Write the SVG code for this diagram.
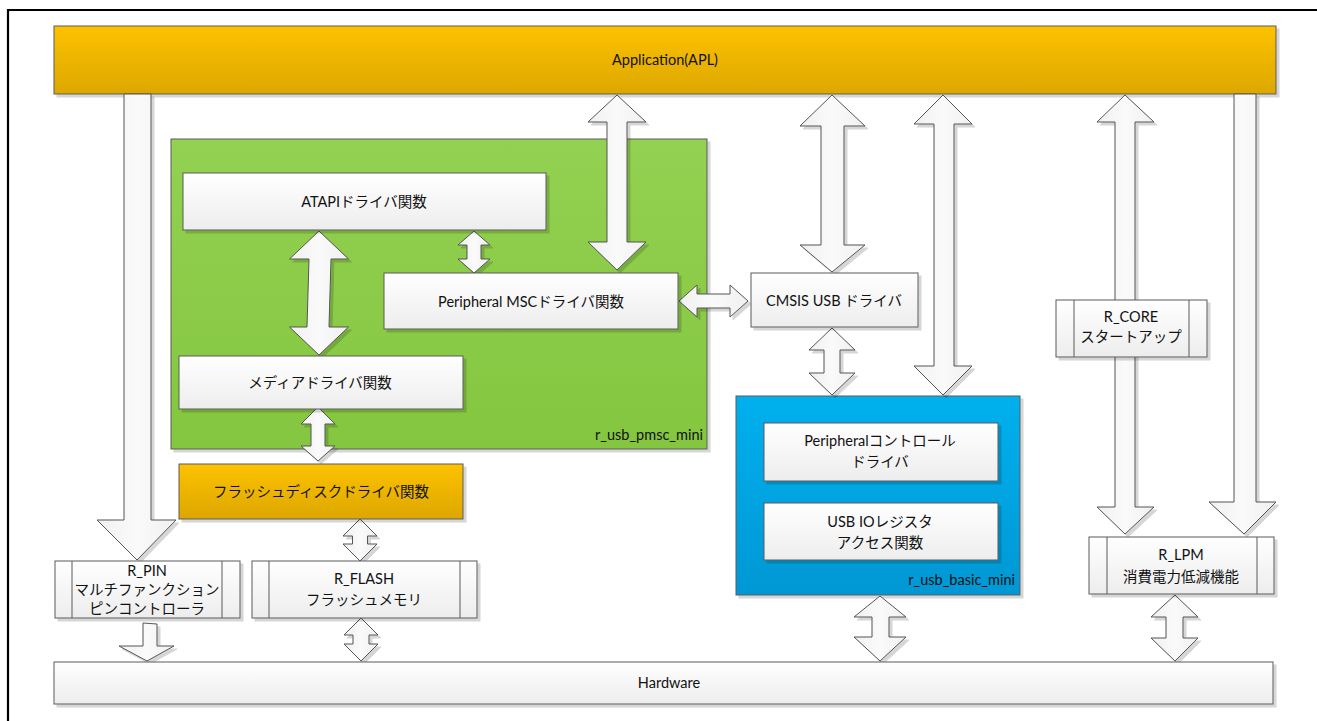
<svg xmlns="http://www.w3.org/2000/svg" width="1317" height="721" viewBox="0 0 1317 721">
<defs>
<linearGradient id="gOrange" x1="0" y1="0" x2="0" y2="1"><stop offset="0" stop-color="#FDC200"/><stop offset="1" stop-color="#DDA700"/></linearGradient>
<linearGradient id="gGreen" x1="0" y1="0" x2="0" y2="1"><stop offset="0" stop-color="#93D152"/><stop offset="1" stop-color="#84C63F"/></linearGradient>
<linearGradient id="gBlue" x1="0" y1="0" x2="0" y2="1"><stop offset="0" stop-color="#00B0EE"/><stop offset="1" stop-color="#0098D4"/></linearGradient>
<linearGradient id="gWhite" x1="0" y1="0" x2="0" y2="1"><stop offset="0" stop-color="#FFFFFF"/><stop offset="1" stop-color="#EDEDED"/></linearGradient>
<linearGradient id="gArrow" x1="0" y1="0" x2="1" y2="0"><stop offset="0" stop-color="#F0F0F0"/><stop offset="0.5" stop-color="#FAFAFA"/><stop offset="1" stop-color="#F0F0F0"/></linearGradient>
<filter id="sh" x="-10%" y="-10%" width="130%" height="130%"><feDropShadow dx="3" dy="3" stdDeviation="0.6" flood-color="#000" flood-opacity="0.16"/></filter>
</defs>
<style>
.box{fill:url(#gWhite);stroke:#5A5A5A;stroke-width:1;filter:url(#sh)}
.ln{stroke:#5A5A5A;stroke-width:1;fill:none}
.arr{fill:url(#gArrow);stroke:#555;stroke-width:1;stroke-linejoin:miter;filter:url(#sh)}
text{font-family:Lato,"Noto Sans CJK JP",sans-serif;font-size:14.5px;fill:#111;text-anchor:middle}
.lbl{text-anchor:end}
</style>
<rect width="1317" height="721" fill="#fff"/>
<g id="frame"><line x1="7" y1="10" x2="1317" y2="10" stroke="#000" stroke-width="2.2"/><line x1="8" y1="9" x2="8" y2="721" stroke="#000" stroke-width="2.2"/></g>

<g id="app"><rect x="54" y="26" width="1222" height="68" fill="url(#gOrange)" stroke="#5A5A5A" filter="url(#sh)"/><text x="665" y="65">Application(APL)</text></g>
<g id="pmsc"><rect x="171" y="139" width="536" height="310" fill="url(#gGreen)" stroke="#5A5A5A" filter="url(#sh)"/><text class="lbl" x="703" y="440">r_usb_pmsc_mini</text></g>
<g id="basic"><rect x="736" y="396" width="284" height="199" fill="url(#gBlue)" stroke="#5A5A5A" filter="url(#sh)"/><text class="lbl" x="1015" y="585">r_usb_basic_mini</text></g>

<g id="connectors">
<polygon class="arr" points="124,94 151,94 151,520 176,520 137,560 97,520 124,520"/>
<polygon class="arr" points="143,623 157,624 157,646 174,646 147,661 119,646 143,646"/>
<polygon class="arr" points="360,519 377,536 367.5,536 367.5,544 377,544 360,561 343,544 352.5,544 352.5,536 343,536"/>
<polygon class="arr" points="361,618 378,635 369,635 369,644 378,644 361,661 344,644 353,644 353,635 344,635"/>
<polygon class="arr" points="318,407 335,424 325,424 325,446 335,446 318,461 301,446 311,446 311,424 301,424"/>
<polygon class="arr" points="319,231 348.5,259 331,259 329,327 348.5,327 319,355 289.5,327 307,327 309,259 289.5,259"/>
<polygon class="arr" points="474,231 490,245 481,245 481,259 490,259 474,273 458,259 467,259 467,245 458,245"/>
<polygon class="arr" points="617,95 646,122 627,122 627,242 646,242 617,270 588,242 607,242 607,122 588,122"/>
<polygon class="arr" points="679,301 697,285 697,294 730,294 730,285 748,301 730,317 730,308 697,308 697,317"/>
<polygon class="arr" points="832,95 865,126 844,126 844,245 865,245 832,272 800,245 821,245 821,126 800,126"/>
<polygon class="arr" points="832,328 855,350 840,350 840,373 855,373 832,395 809,373 824,373 824,350 809,350"/>
<polygon class="arr" points="943,95 972,124 954,124 954,366 972,366 943,395 914,366 934,366 934,124 914,124"/>
<polygon class="arr" points="1125,95 1154,122 1135,122 1135,507 1154,507 1125,534 1097,507 1115,507 1115,122 1097,122"/>
<polygon class="arr" points="1234,94 1256,94 1256,502 1276,502 1244,534 1209,502 1234,502"/>
<polygon class="arr" points="880,596 906,617 889,617 889,637 906,637 880,661 854,637 872,637 872,617 854,617"/>
<polygon class="arr" points="1175,595 1198,617 1183,617 1183,638 1198,638 1175,661 1151,638 1166,638 1166,617 1151,617"/>
</g>

<g id="atapi"><rect class="box" x="183" y="173" width="363" height="57"/><text x="364" y="207">ATAPIドライバ関数</text></g>
<g id="msc"><rect class="box" x="384" y="273" width="294" height="56"/><text x="531" y="307">Peripheral MSCドライバ関数</text></g>
<g id="media"><rect class="box" x="179" y="356" width="284" height="53"/><text x="320" y="388">メディアドライバ関数</text></g>
<g id="flashdisk"><rect x="179" y="464" width="284" height="55" fill="url(#gOrange)" stroke="#5A5A5A" filter="url(#sh)"/><text x="321" y="497">フラッシュディスクドライバ関数</text></g>
<g id="cmsis"><rect class="box" x="751" y="273" width="167" height="54"/><text x="834" y="306">CMSIS USB ドライバ</text></g>
<g id="pctrl"><rect class="box" x="764" y="423" width="234" height="58"/><text x="880" y="446">Peripheralコントロール</text><text x="880" y="467">ドライバ</text></g>
<g id="usbio"><rect class="box" x="764" y="503" width="234" height="57"/><text x="880" y="527">USB IOレジスタ</text><text x="880" y="548">アクセス関数</text></g>
<g id="rcore"><rect class="box" x="1056" y="300" width="151" height="57"/><line class="ln" x1="1074" y1="300" x2="1074" y2="357"/><line class="ln" x1="1189" y1="300" x2="1189" y2="357"/><text x="1131" y="322">R_CORE</text><text x="1131" y="342">スタートアップ</text></g>
<g id="rlpm"><rect class="box" x="1089" y="537" width="185" height="57"/><line class="ln" x1="1107" y1="537" x2="1107" y2="594"/><line class="ln" x1="1257" y1="537" x2="1257" y2="594"/><text x="1181" y="560">R_LPM</text><text x="1181" y="582">消費電力低減機能</text></g>
<g id="rpin"><rect class="box" x="55" y="561" width="185" height="57"/><line class="ln" x1="72" y1="561" x2="72" y2="618"/><line class="ln" x1="222" y1="561" x2="222" y2="618"/><text x="147" y="576">R_PIN</text><text x="147" y="595">マルチファンクション</text><text x="147" y="614">ピンコントローラ</text></g>
<g id="rflash"><rect class="box" x="252" y="561" width="225" height="57"/><line class="ln" x1="269" y1="561" x2="269" y2="618"/><line class="ln" x1="460" y1="561" x2="460" y2="618"/><text x="364" y="584">R_FLASH</text><text x="364" y="605">フラッシュメモリ</text></g>
<g id="hardware"><rect class="box" x="54" y="662" width="1219" height="42"/><text x="669" y="688">Hardware</text></g>
</svg>
